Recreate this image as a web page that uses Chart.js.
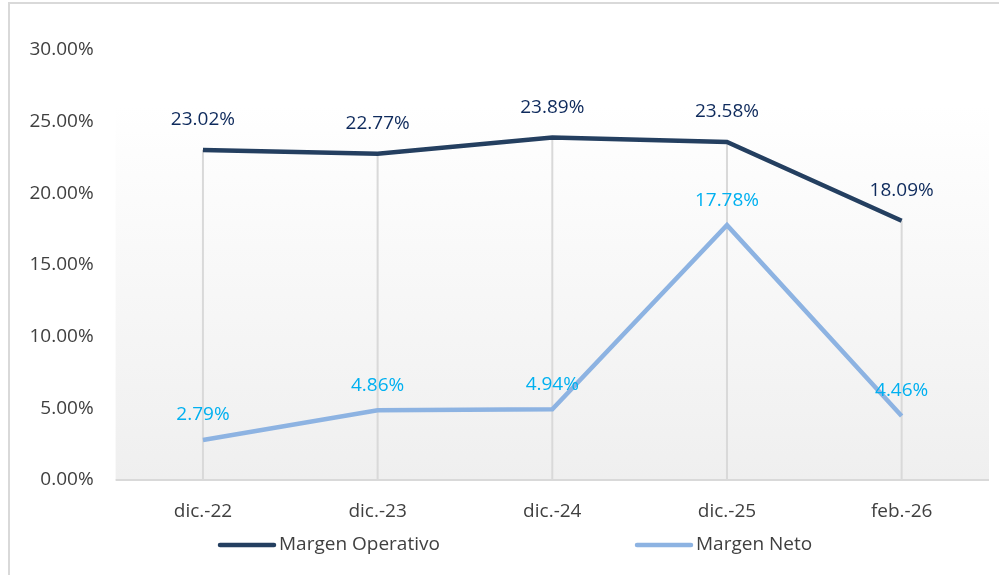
<!DOCTYPE html>
<html>
<head>
<meta charset="utf-8">
<script src="https://cdn.jsdelivr.net/npm/chart.js@4/dist/chart.umd.min.js"></script>
<style>
  html, body { margin: 0; padding: 0; background: #ffffff; }
  #wrap { position: relative; width: 999px; height: 575px; }
</style>
</head>
<body>
<div id="wrap"><canvas id="lineChart" width="999" height="575"></canvas></div>
<script>
// periodos y márgenes (%)
const periodos = ['dic.-22', 'dic.-23', 'dic.-24', 'dic.-25', 'feb.-26'];
const margenOperativo = [23.02, 22.77, 23.89, 23.58, 18.09];
const margenNeto = [2.79, 4.86, 4.94, 17.78, 4.46];
const ticksEje = [0, 5, 10, 15, 20, 25, 30];

const FUENTE = '"Open Sans", "Noto Sans", sans-serif';
const TAM = 19;
const GRIS_TEXTO = '#404040';
const GRIS_LINEA = '#d9d9d9';

// fondo degradado del área de trazado, marco exterior y líneas de caída
const fondoPlugin = {
    id: 'fondo',
    beforeDraw(chart) {
        const ctx = chart.ctx;
        const a = chart.chartArea;
        const top = a.top + (a.bottom - a.top) * 0.13;
        const grad = ctx.createLinearGradient(0, top, 0, a.bottom);
        grad.addColorStop(0, '#ffffff');
        grad.addColorStop(1, '#efefef');
        ctx.save();
        ctx.fillStyle = grad;
        ctx.fillRect(a.left, top, a.right - a.left, a.bottom - top);

        // marco del gráfico
        ctx.strokeStyle = GRIS_LINEA;
        ctx.lineWidth = 2;
        ctx.beginPath();
        ctx.moveTo(9, chart.height);
        ctx.lineTo(9, 3);
        ctx.lineTo(chart.width, 3);
        ctx.stroke();
        ctx.restore();
    },
    beforeDatasetsDraw(chart) {
        const ctx = chart.ctx;
        const x = chart.scales.x;
        const y = chart.scales.y;
        ctx.save();
        ctx.strokeStyle = GRIS_LINEA;
        ctx.lineWidth = 2;
        periodos.forEach((p, i) => {
            const maxVal = Math.max(...chart.data.datasets.map(d => d.data[i]));
            const px = x.getPixelForValue(i);
            ctx.beginPath();
            ctx.moveTo(px, y.getPixelForValue(maxVal));
            ctx.lineTo(px, y.getPixelForValue(0));
            ctx.stroke();
        });
        // eje horizontal
        ctx.beginPath();
        ctx.moveTo(chart.chartArea.left, y.getPixelForValue(0));
        ctx.lineTo(chart.chartArea.right, y.getPixelForValue(0));
        ctx.stroke();
        ctx.restore();
    }
};

// etiquetas de valor sobre cada punto
const etiquetasPlugin = {
    id: 'etiquetas',
    afterDatasetsDraw(chart) {
        const ctx = chart.ctx;
        ctx.save();
        ctx.font = TAM + 'px ' + FUENTE;
        ctx.textAlign = 'center';
        ctx.textBaseline = 'middle';
        chart.data.datasets.forEach((ds, di) => {
            const meta = chart.getDatasetMeta(di);
            ctx.fillStyle = ds.labelColor;
            meta.data.forEach((pt, i) => {
                ctx.fillText(ds.data[i].toFixed(2) + '%', pt.x, pt.y - ds.labelOffset);
            });
        });
        ctx.restore();
    }
};

// leyenda inferior con las dos series separadas
const leyendaPlugin = {
    id: 'leyenda',
    afterDraw(chart, args, opts) {
        const ctx = chart.ctx;
        const y = opts.y;
        ctx.save();
        ctx.font = TAM + 'px ' + FUENTE;
        ctx.textBaseline = 'middle';
        ctx.textAlign = 'left';
        chart.data.datasets.forEach((ds, i) => {
            const x0 = opts.x[i];
            ctx.strokeStyle = ds.borderColor;
            ctx.lineWidth = 4.5;
            ctx.lineCap = 'round';
            ctx.beginPath();
            ctx.moveTo(x0, y);
            ctx.lineTo(x0 + 54, y);
            ctx.stroke();
            ctx.fillStyle = GRIS_TEXTO;
            ctx.fillText(ds.label, x0 + 59, y);
        });
        ctx.restore();
    }
};

const CHART = document.getElementById('lineChart');
const grafico = new Chart(CHART, {
    type: 'line',
    data: {
        labels: periodos,
        datasets: [
            {
                label: 'Margen Operativo',
                data: margenOperativo,
                borderColor: '#243f60',
                backgroundColor: '#243f60',
                borderWidth: 4.5,
                pointRadius: 0,
                tension: 0,
                labelColor: '#0e2a5c',
                labelOffset: 30
            },
            {
                label: 'Margen Neto',
                data: margenNeto,
                borderColor: '#8db3e2',
                backgroundColor: '#8db3e2',
                borderWidth: 4.5,
                pointRadius: 0,
                tension: 0,
                labelColor: '#00b0f0',
                labelOffset: 25
            }
        ]
    },
    options: {
        responsive: false,
        animation: false,
        layout: { padding: { top: 50, right: 10, bottom: 0, left: 0 } },
        plugins: {
            legend: { display: false },
            tooltip: { enabled: false },
            leyenda: { x: [220, 637], y: 545 }
        },
        scales: {
            x: {
                offset: true,
                grid: { display: false, drawTicks: false },
                border: { display: false },
                ticks: { color: GRIS_TEXTO, font: { size: TAM, family: FUENTE }, padding: 20, maxRotation: 0 },
                afterFit(scale) { scale.height = 95; }
            },
            y: {
                min: 0,
                max: 30,
                afterBuildTicks(scale) { scale.ticks = ticksEje.map(v => ({ value: v })); },
                grid: { display: false, drawTicks: false },
                border: { display: false },
                ticks: {
                    color: GRIS_TEXTO,
                    font: { size: TAM, family: FUENTE },
                    padding: 22,
                    callback: v => v.toFixed(2) + '%'
                },
                afterFit(scale) { scale.width = 115.6; }
            }
        }
    },
    plugins: [fondoPlugin, etiquetasPlugin, leyendaPlugin]
});
</script>
</body>
</html>
